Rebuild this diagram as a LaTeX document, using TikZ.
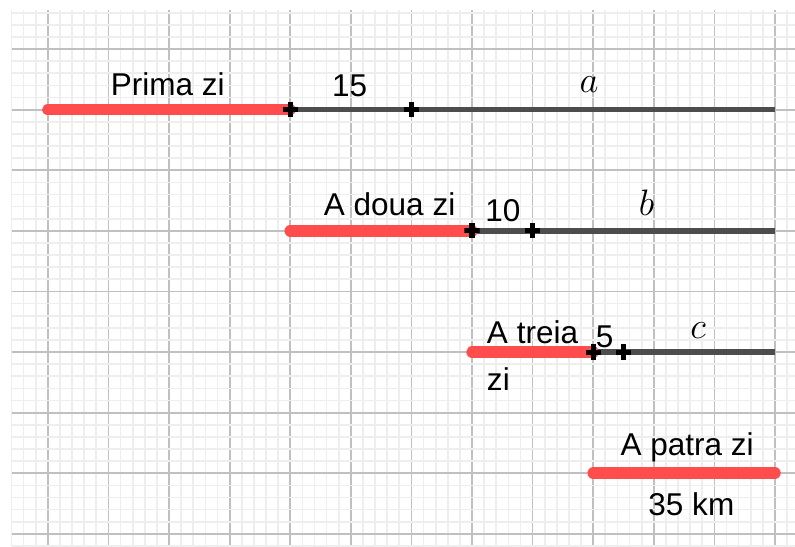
\documentclass[tikz,border=0pt]{standalone}
\usepackage{fontspec}
\setmainfont{Liberation Sans}
\usepackage{tikz}
\usetikzlibrary{positioning,calc}
\definecolor{dayRed}   {RGB}{255, 77, 77}
\definecolor{restDark} {RGB}{ 77, 77, 77}
\definecolor{gridLight}{RGB}{238,238,238}
\definecolor{gridMid}  {RGB}{192,192,192}

\begin{document}
\begin{tikzpicture}[
    dayline/.style={line width=5.4pt, dayRed, line cap=round},
    restline/.style={line width=2.6pt, restDark},
    tickmark/.style={inner sep=0pt, minimum size=0.25cm, path picture={
        \draw[line width=2.4pt] (path picture bounding box.north) -- (path picture bounding box.south)
          (path picture bounding box.west) -- (path picture bounding box.east);}},
    lbl/.style={font=\fontsize{14.8}{22}\selectfont, inner sep=0pt, anchor=base},
    mlbl/.style={font=\LARGE, inner sep=0pt, anchor=base}]
  \useasboundingbox (-0.79,-0.21) rectangle (12.33,8.81);
  % squared paper
  \foreach \i in {-3,...,62}
    \draw[gridLight, line width=0.8pt] (\i/5,-0.2) -- (\i/5,8.65);
  \foreach \i in {0,...,12}
    \draw[gridMid, line width=0.8pt] (\i,-0.2) -- (\i,8.65);
  \foreach \j in {-1,...,43}
    \draw[gridLight, line width=0.8pt] (-0.6,\j/5) -- (12.4,\j/5);
  \foreach \j in {0,...,8}
    \draw[gridMid, line width=0.8pt] (-0.6,\j) -- (12.4,\j);

  % first day
  \coordinate (a0) at (0,7);
  \coordinate (a4) at (4,7);
  \coordinate (a6) at (6,7);
  \coordinate (a12) at (12,7);
  \draw[restline] (a4) -- (a12);
  \draw[dayline] (a0) -- (a4);
  \node[tickmark] (ta1) at (a4) {};
  \node[tickmark] (ta2) at (a6) {};
  \node[lbl] (prima) at (1.98,7.23) {Prima zi};
  \node[lbl] (n15) at (4.98,7.21) {15};
  \node[mlbl] (la) at (8.93,7.28) {$a$};

  % second day
  \coordinate (b4) at (4,5);
  \coordinate (b7) at (7,5);
  \coordinate (b8) at (8,5);
  \coordinate (b12) at (12,5);
  \draw[restline] (b7) -- (b12);
  \draw[dayline] (b4) -- (b7);
  \node[tickmark] (tb1) at (b7) {};
  \node[tickmark] (tb2) at (b8) {};
  \node[lbl] (adoua) at (5.64,5.25) {A doua zi};
  \node[lbl] (n10) at (7.51,5.15) {10};
  \node[mlbl] (lb) at (9.88,5.25) {$b$};

  % third day
  \coordinate (c7) at (7,3);
  \coordinate (c9) at (9,3);
  \coordinate (c95) at (9.5,3);
  \coordinate (c12) at (12,3);
  \draw[restline] (c9) -- (c12);
  \draw[dayline] (c7) -- (c9);
  \node[tickmark] (tc1) at (c9) {};
  \node[tickmark] (tc2) at (c95) {};
  \node[lbl, anchor=base west, align=left] (atreia) at (7.24,2.37) {A treia\\zi};
  \node[lbl] (n5) at (9.19,3.07) {5};
  \node[mlbl] (lc) at (10.73,3.23) {$c$};

  % fourth day
  \coordinate (d9) at (9,1);
  \coordinate (d12) at (12,1);
  \draw[dayline] (d9) -- (d12);
  \node[lbl] (apatra) at (10.55,1.30) {A patra zi};
  \node[lbl] (km) at (10.62,0.31) {35 km};
\end{tikzpicture}
\end{document}
